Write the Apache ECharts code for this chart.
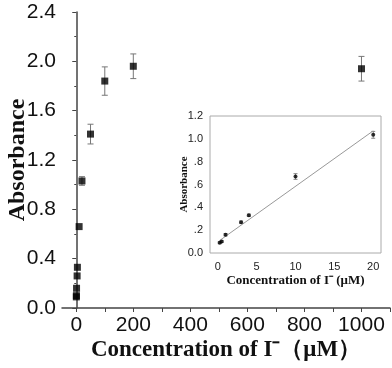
<!DOCTYPE html>
<html>
<head>
<meta charset="utf-8">
<script src="https://cdn.jsdelivr.net/npm/echarts@6/dist/echarts.min.js"></script>
<style>
html, body { margin: 0; padding: 0; background: #fff; }
#chart { width: 392px; height: 368px; }
</style>
</head>
<body>
<div id="chart"></div>
<script>
// main plot: whole range
var concMain = [0.25, 0.5, 1, 3, 4, 10, 20, 50, 100, 200, 1000];
var absMain = [0.09, 0.10, 0.16, 0.26, 0.33, 0.66, 1.03, 1.41, 1.84, 1.96, 1.94];
var errMain = [0, 0, 0, 0, 0, 0, 0.035, 0.08, 0.115, 0.10, 0.10];
var xTicksMain = [0, 200, 400, 600, 800, 1000];
var xMinorMain = [0, 100, 200, 300, 400, 500, 600, 700, 800, 900, 1000, 1100];

// inset: linear range
var concIn = [0.25, 0.5, 1, 3, 4, 10, 20];
var absIn = [0.09, 0.10, 0.16, 0.27, 0.33, 0.67, 1.035];
var errIn = [0.008, 0.008, 0.01, 0.01, 0.01, 0.025, 0.03];
var xTicksIn = [0, 5, 10, 15, 20];
var fitX = [0.25, 20];
var fitY = [0.11, 1.07];

function pairs(xs, ys) {
	var out = [];
	for (var i = 0; i < xs.length; i++) out.push([xs[i], ys[i]]);
	return out;
}
function errRows(xs, ys, es) {
	var out = [];
	for (var i = 0; i < xs.length; i++) {
		if (es[i] > 0) out.push([xs[i], ys[i] - es[i], ys[i] + es[i]]);
	}
	return out;
}
function errBar(capW, color) {
	return function (params, api) {
		var lo = api.coord([api.value(0), api.value(1)]);
		var hi = api.coord([api.value(0), api.value(2)]);
		var st = { stroke: color, lineWidth: 1 };
		return {
			type: 'group',
			children: [
				{ type: 'line', shape: { x1: lo[0], y1: lo[1], x2: hi[0], y2: hi[1] }, style: st },
				{ type: 'line', shape: { x1: lo[0] - capW, y1: lo[1], x2: lo[0] + capW, y2: lo[1] }, style: st },
				{ type: 'line', shape: { x1: hi[0] - capW, y1: hi[1], x2: hi[0] + capW, y2: hi[1] }, style: st }
			]
		};
	};
}

var serif = '"Liberation Serif", "Times New Roman", serif';
var sans = '"Liberation Sans", Arial, sans-serif';

var chart = echarts.init(document.getElementById('chart'), null, { renderer: 'canvas' });
chart.setOption({
	animation: false,
	backgroundColor: '#fff',
	grid: [
		{ left: 62, top: 12, right: 2, bottom: 60, outerBoundsMode: 'none', containLabel: false },
		{ left: 210, top: 116, width: 171, height: 137, outerBoundsMode: 'none', containLabel: false, show: true, backgroundColor: '#fff', borderColor: '#aaa', borderWidth: 1, z: 5 }
	],
	xAxis: [{
		gridIndex: 0,
		type: 'value',
		min: -50,
		max: 1100,
		name: 'Concentration of I⁻（μM）',
		nameLocation: 'middle',
		nameGap: 31,
		nameMoveOverlap: false,
		nameTextStyle: { fontFamily: serif, fontWeight: 'bold', fontSize: 23, color: '#111' },
		axisLine: { lineStyle: { color: '#444', width: 1.5 } },
		axisTick: { show: true, length: 4, customValues: xMinorMain, lineStyle: { color: '#444' } },
		axisLabel: { customValues: xTicksMain, fontFamily: sans, fontSize: 21, color: '#111', margin: 7, formatter: function (v) { return String(v); } },
		splitLine: { show: false }
	}, {
		gridIndex: 1,
		type: 'value',
		min: -1,
		max: 21,
		name: 'Concentration of I⁻ (μM)',
		nameLocation: 'middle',
		nameGap: 21,
		nameMoveOverlap: false,
		nameTextStyle: { fontFamily: serif, fontWeight: 'bold', fontSize: 13, color: '#111' },
		axisLine: { show: false },
		axisTick: { show: false },
		axisLabel: { customValues: xTicksIn, fontFamily: sans, fontSize: 11, color: '#222', margin: 8, formatter: function (v) { return String(v); } },
		splitLine: { show: false }
	}],
	yAxis: [{
		gridIndex: 0,
		type: 'value',
		min: 0,
		max: 2.4,
		interval: 0.4,
		name: 'Absorbance',
		nameLocation: 'middle',
		nameGap: 32,
		nameMoveOverlap: false,
		nameTextStyle: { fontFamily: serif, fontWeight: 'bold', fontSize: 24, color: '#111' },
		axisLine: { show: true, lineStyle: { color: '#444', width: 1.5 } },
		axisTick: { show: true, length: 4, lineStyle: { color: '#444' } },
		minorTick: { show: true, splitNumber: 2, length: 2, lineStyle: { color: '#444' } },
		axisLabel: { fontFamily: sans, fontSize: 21, color: '#111', margin: 6, formatter: function (v) { return v.toFixed(1); } },
		splitLine: { show: false }
	}, {
		gridIndex: 1,
		type: 'value',
		min: 0,
		max: 1.2,
		interval: 0.2,
		name: 'Absorbance',
		nameLocation: 'middle',
		nameGap: 20,
		nameMoveOverlap: false,
		nameTextStyle: { fontFamily: serif, fontWeight: 'bold', fontSize: 11, color: '#111' },
		axisLine: { show: false },
		axisTick: { show: false },
		axisLabel: {
			fontFamily: sans, fontSize: 11, color: '#222', margin: 7,
			formatter: function (v) {
				if (v === 0) return '0.0';
				if (v < 1) return '.' + Math.round(v * 10);
				return v.toFixed(1);
			}
		},
		splitLine: { show: false }
	}],
	series: [{
		type: 'custom',
		xAxisIndex: 0, yAxisIndex: 0,
		renderItem: errBar(3, '#777'),
		data: errRows(concMain, absMain, errMain),
		z: 2
	}, {
		type: 'scatter',
		xAxisIndex: 0, yAxisIndex: 0,
		symbol: 'rect',
		symbolSize: 7,
		itemStyle: { color: '#000' },
		data: pairs(concMain, absMain),
		z: 3
	}, {
		type: 'line',
		xAxisIndex: 1, yAxisIndex: 1,
		symbol: 'none',
		lineStyle: { color: '#999', width: 1 },
		data: pairs(fitX, fitY),
		z: 6
	}, {
		type: 'custom',
		xAxisIndex: 1, yAxisIndex: 1,
		renderItem: errBar(2, '#888'),
		data: errRows(concIn, absIn, errIn),
		z: 6
	}, {
		type: 'scatter',
		xAxisIndex: 1, yAxisIndex: 1,
		symbol: 'circle',
		symbolSize: 4,
		itemStyle: { color: '#000' },
		data: pairs(concIn, absIn),
		z: 7
	}]
});
</script>
</body>
</html>
